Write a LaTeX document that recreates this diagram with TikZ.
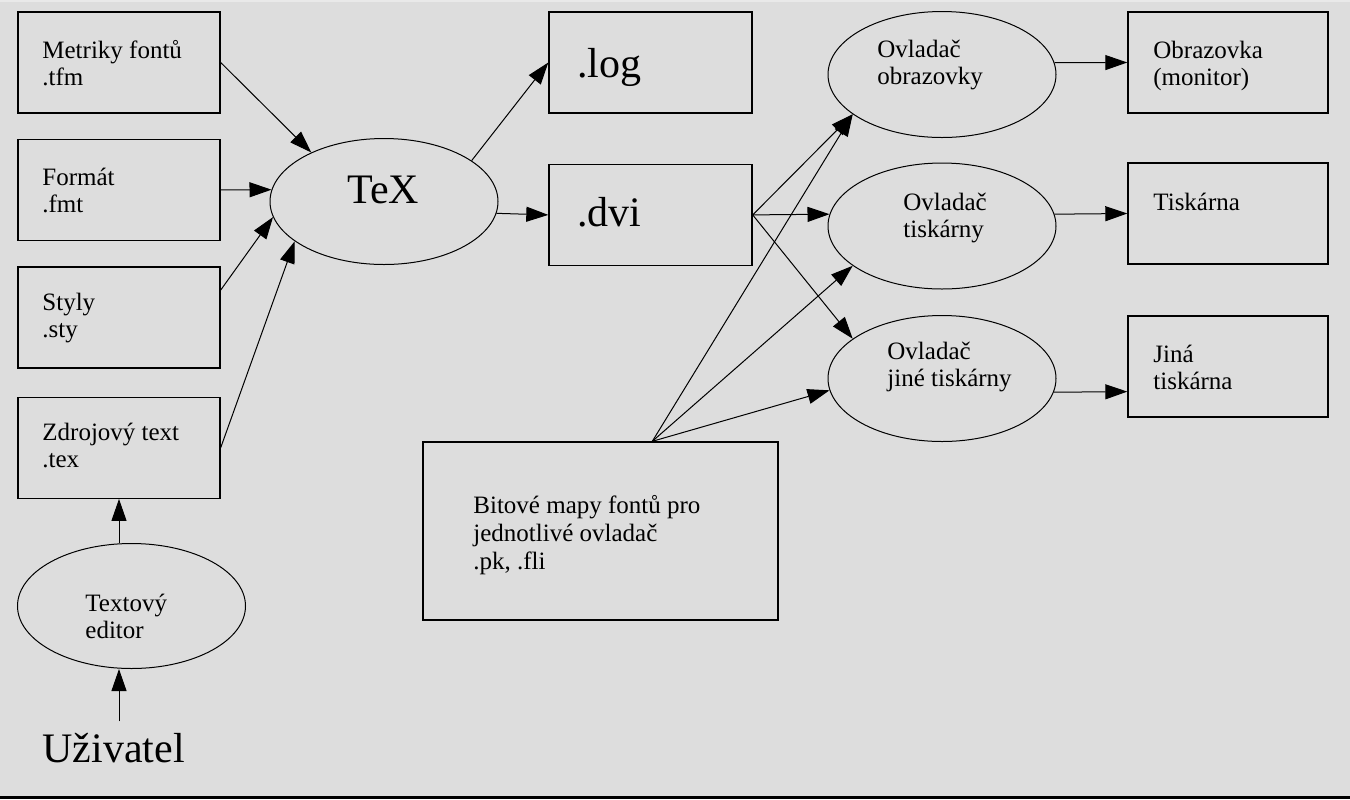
\documentclass[tikz,border=0pt]{standalone}
\usepackage{fontspec}
\setmainfont{Liberation Serif}
\usetikzlibrary{arrows.meta,positioning,shapes.geometric}
\definecolor{bgray}{HTML}{DDDDDD}
\definecolor{lgray}{HTML}{E9E9E9}

\begin{document}
\begin{tikzpicture}[
  x=0.5pt, y=-0.5pt,
  box/.style={draw,line width=0.7pt,minimum width=101pt,minimum height=50.5pt,inner sep=0pt},
  oval/.style={draw,ellipse,line width=0.5pt,minimum width=114pt,minimum height=63pt,inner sep=0pt},
  lbl/.style={anchor=base west,align=left,inner sep=0pt,font=\fontsize{12.5}{13.5}\selectfont},
  big/.style={anchor=base west,inner sep=0pt,font=\fontsize{21}{25}\selectfont},
  arr/.style={-{Triangle[length=11pt,width=7.5pt]},line width=0.5pt}
]
\fill[bgray] (0,0) rectangle (1350,799);
\fill[lgray] (0,0) rectangle (1350,2);
\fill[black] (0,796) rectangle (1350,799);
\useasboundingbox (0,0) rectangle (1350,799);

% inputs of TeX
\node[box] (metriky) at (119,62.5) {};
\node[box,below=12.5pt of metriky] (format) {};
\node[box,below=12.5pt of format] (styly) {};
\node[box,below=14pt of styly] (zdroj) {};
\node[oval,minimum height=62.5pt] (edit) at (131.5,606) {};
\node[big,inner ysep=5.5pt] (uziv) at (42,762) {Uživatel};

% labels sit on the baseline of their last line
\node[lbl] (metriky-l) at (42,85) {Metriky fontů\\.tfm};
\node[lbl] (format-l) at (42,212) {Formát\\.fmt};
\node[lbl] (styly-l) at (42,337) {Styly\\.sty};
\node[lbl] (zdroj-l) at (42,467) {Zdrojový text\\.tex};
\node[lbl] (edit-l) at (85,638) {Textový\\editor};

% TeX and its outputs
\node[oval] (tex) at (384,201.5) {};
\node[big] (tex-l) at (347,203) {TeX};
\node[box,minimum width=101.5pt] (log) at (650.5,62.5) {};
\node[box,minimum width=101.5pt,below=25pt of log] (dvi) {};
\node[big] (log-l) at (577,77) {.log};
\node[big] (dvi-l) at (577,226) {.dvi};
\node[box,minimum width=177.5pt,minimum height=89pt] (bitove) at (600.5,531) {};
\node[lbl,font=\fontsize{12.5}{14}\selectfont] (bitove-l) at (473,569)
  {Bitové mapy fontů pro\\jednotlivé ovladač\\.pk, .fli};

% drivers and devices
\node[oval] (obr) at (942,74.5) {};
\node[oval] (tisk) at (942,226) {};
\node[oval] (jine) at (942,378.5) {};
\node[lbl] (obr-l) at (877,84) {Ovladač\\obrazovky};
\node[lbl] (tisk-l) at (903,237) {Ovladač\\tiskárny};
\node[lbl] (jine-l) at (887,386) {Ovladač\\jiné tiskárny};
\node[box,minimum width=100pt] (obrazovka) at (1228,62.5) {};
\node[box,minimum width=100pt] (tiskarna) at (1228,213.5) {};
\node[box,minimum width=100pt] (jina) at (1228,366.5) {};
\node[lbl] (obrazovka-l) at (1153,85) {Obrazovka\\(monitor)};
\node[lbl] (tiskarna-l) at (1153,210) {Tiskárna};
\node[lbl] (jina-l) at (1153,389) {Jiná\\tiskárna};

\draw[arr] (metriky.east) -- (tex.146);
\draw[arr] (format.east) -- (tex.174);
\draw[arr] (styly.15) -- (tex.188);
\draw[arr] (zdroj.east) -- (tex.204);
\draw[arr] (zdroj.south |- edit.north) -- (zdroj.south);
\draw[arr] (zdroj.south |- uziv.north) -- (zdroj.south |- edit.south);
\draw[arr] (tex.25) -- (log.west);
\draw[arr] (tex.-6) -- (dvi.west);
\draw[arr] (dvi.east) -- (obr.204);
\draw[arr] (dvi.east) -- (tisk.174);
\draw[arr] (dvi.east) -- (jine.156);
\draw[arr] (bitove.60) -- (obr.204);
\draw[arr] (bitove.60) -- (tisk.204);
\draw[arr] (bitove.60) -- (jine.186);
\draw[arr] (obr.6) -- (obrazovka.west);
\draw[arr] (tisk.6) -- (tiskarna.west);
\draw[arr] (jine.-7) -- (jina.194);
\end{tikzpicture}
\end{document}
